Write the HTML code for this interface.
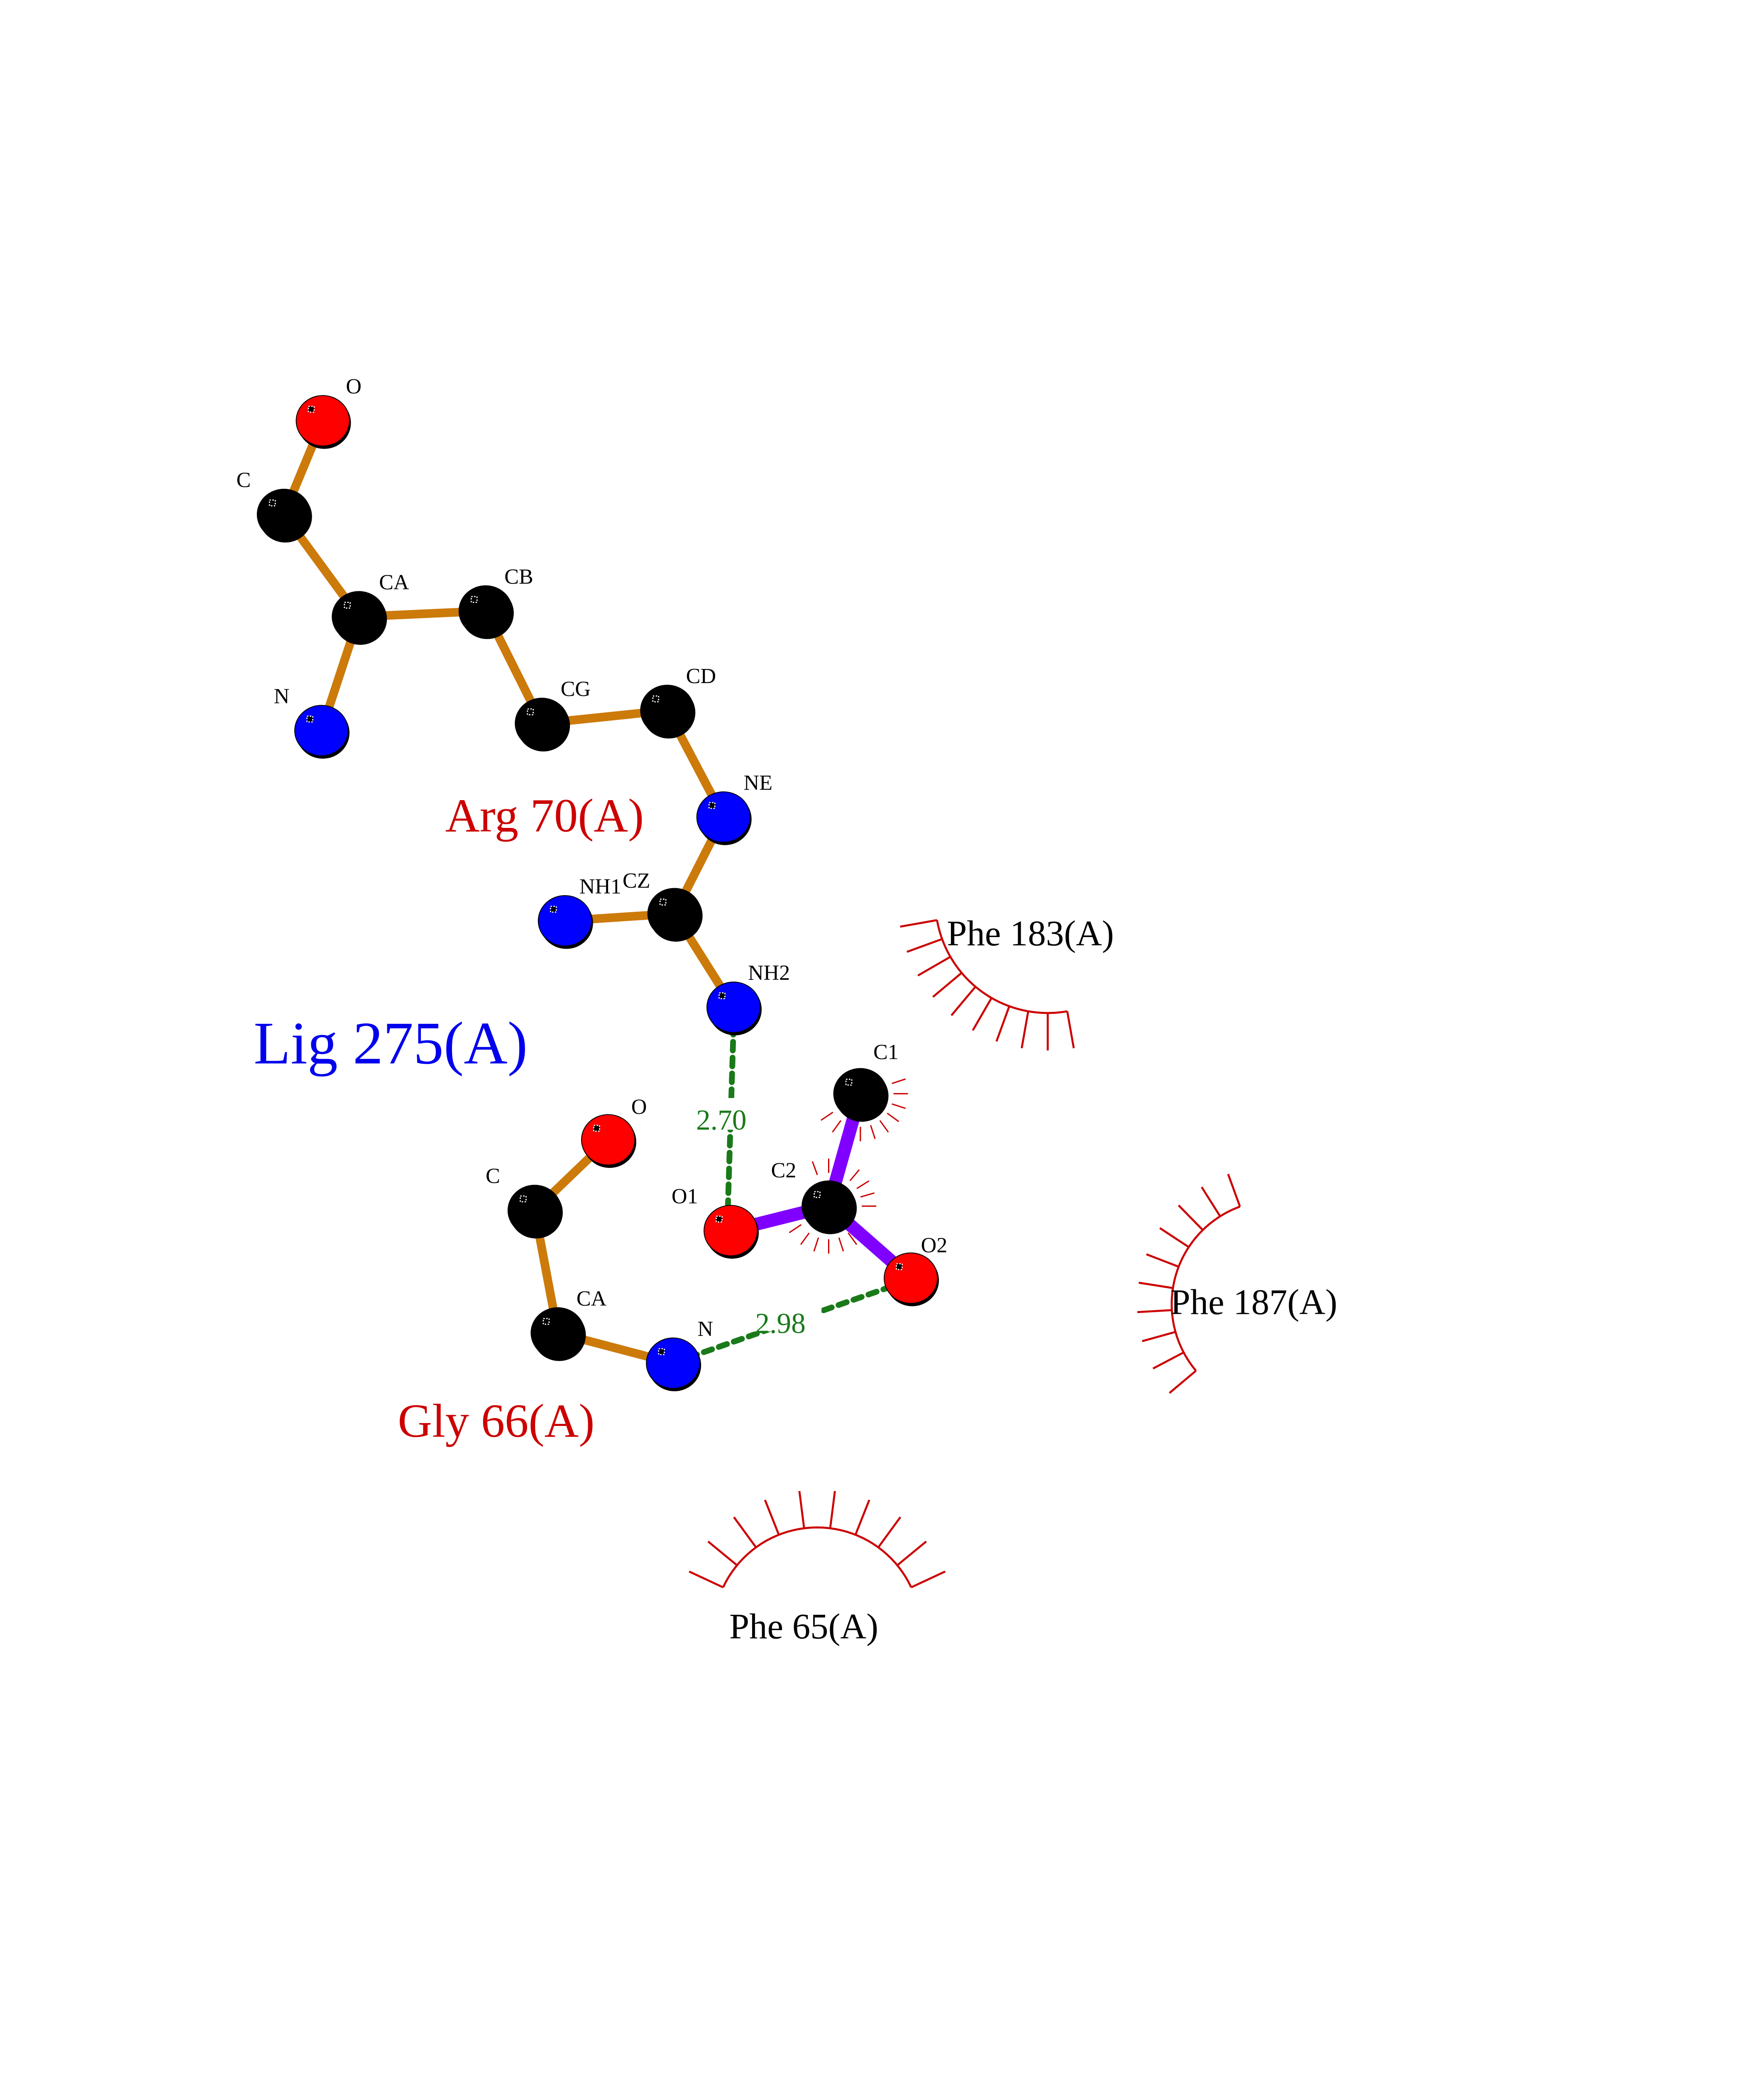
<!DOCTYPE html>
<html><head><meta charset="utf-8"><style>
html,body{margin:0;padding:0;background:#fff;overflow:hidden;width:4250px;height:5500px;}
svg{display:block;position:absolute;left:0;top:0;}
text{font-family:"Liberation Serif",serif;}
</style></head><body>
<svg id="s" width="4250" height="5500" viewBox="0 0 1224 1584" xmlns="http://www.w3.org/2000/svg">
<rect width="1224" height="1584" fill="#fff"/>
<g id="arcs" stroke="#cc0000" stroke-width="1.4" fill="none"></g>
<g stroke="#cc7a0a" stroke-width="6" stroke-linecap="round">
<line x1="224" y1="292" x2="197" y2="357"/>
<line x1="197" y1="357" x2="249" y2="428"/>
<line x1="249" y1="428" x2="337" y2="424"/>
<line x1="249" y1="428" x2="223" y2="507"/>
<line x1="337" y1="424" x2="376" y2="502"/>
<line x1="376" y1="502" x2="463" y2="493"/>
<line x1="463" y1="493" x2="502" y2="567"/>
<line x1="502" y1="567" x2="468" y2="634"/>
<line x1="468" y1="634" x2="392" y2="639"/>
<line x1="468" y1="634" x2="509" y2="699"/>
<line x1="422" y1="791" x2="371" y2="840"/>
<line x1="371" y1="840" x2="387" y2="925"/>
<line x1="387" y1="925" x2="467" y2="946"/>
</g>
<g stroke="#8000ff" stroke-width="9">
<line x1="597" y1="759" x2="575" y2="837"/>
<line x1="575" y1="837" x2="507" y2="854"/>
<line x1="575" y1="837" x2="632" y2="887"/>
</g>
<g stroke="#1a7a1a" stroke-width="4" stroke-dasharray="6,5" stroke-linecap="round">
<line x1="509" y1="712" x2="505" y2="840"/>
<line x1="478" y1="942" x2="618" y2="893"/>
</g>
<rect x="482" y="762" width="48" height="22" fill="#fff"/>
<rect x="522" y="902" width="48" height="22" fill="#fff"/>
<g id="atoms"></g>
<g font-size="15" fill="#000">
<text x="240" y="273">O</text><text x="164" y="338">C</text><text x="263" y="409">CA</text>
<text x="350" y="405">CB</text><text x="190" y="488">N</text><text x="389" y="483">CG</text>
<text x="476" y="474">CD</text><text x="516" y="548">NE</text><text x="402" y="620">NH1</text>
<text x="432" y="616">CZ</text><text x="519" y="680">NH2</text>
<text x="438" y="773">O</text><text x="337" y="821">C</text><text x="400" y="906">CA</text>
<text x="484" y="927">N</text>
<text x="606" y="735">C1</text><text x="535" y="817">C2</text><text x="466" y="835">O1</text><text x="639" y="869">O2</text>
</g>
<g font-size="20" fill="#1a7a1a"><text x="483" y="784">2.70</text><text x="524" y="925">2.98</text></g>
<text x="309" y="577" font-size="33" fill="#cc0000">Arg 70(A)</text>
<text x="176" y="738" font-size="42" fill="#0000ee">Lig 275(A)</text>
<text x="276" y="997" font-size="33" fill="#cc0000">Gly 66(A)</text>
<g font-size="25" fill="#000">
<text x="657" y="656">Phe 183(A)</text><text x="812" y="912">Phe 187(A)</text><text x="506" y="1137">Phe 65(A)</text>
</g>
<text x="57" y="1470" font-size="14">.</text>
</svg>
<script>
var NS="http://www.w3.org/2000/svg";
function el(p,t,a){var e=document.createElementNS(NS,t);for(var k in a)e.setAttribute(k,a[k]);p.appendChild(e);return e;}
var arcs=document.getElementById('arcs');
function hp(cx,cy,r,a0,a1,n,len){
 var d="";for(var i=0;i<=40;i++){var a=(a0+(a1-a0)*i/40)*Math.PI/180;d+=(i?"L":"M")+(cx+r*Math.cos(a))+","+(cy+r*Math.sin(a));}
 el(arcs,'path',{d:d});
 for(var i=0;i<n;i++){var a=(a0+(a1-a0)*i/(n-1))*Math.PI/180;
  el(arcs,'line',{x1:cx+r*Math.cos(a),y1:cy+r*Math.sin(a),x2:cx+(r+len)*Math.cos(a),y2:cy+(r+len)*Math.sin(a)});}
}
hp(727,625,78,170,80,10,26);
hp(885,905,72,250,140,10,24);
hp(567,1132,72,205,335,10,26);
function sp(cx,cy,angs){angs.forEach(function(d){var a=d*Math.PI/180;
 el(arcs,'line',{x1:cx+23*Math.cos(a),y1:cy+23*Math.sin(a),x2:cx+33*Math.cos(a),y2:cy+33*Math.sin(a),'stroke-width':0.9});});}
sp(597,759,[-18,0,18,36,54,72,90,108,126,146]);
sp(575,837,[-110,-90,-70,-50,-32,-16,0,36,54,72,90,108,126,146]);
var atoms=document.getElementById('atoms');
var A=[[224,292,'r'],[197,357,'k'],[249,428,'k'],[337,424,'k'],[223,507,'b'],[376,502,'k'],[463,493,'k'],[502,567,'b'],[468,634,'k'],[392,639,'b'],[509,699,'b'],
[422,791,'r'],[371,840,'k'],[387,925,'k'],[467,946,'b'],[597,759,'k'],[575,837,'k'],[507,854,'r'],[632,887,'r']];
var C={r:'#ff0000',k:'#000000',b:'#0000ff'};
A.forEach(function(p){
 el(atoms,'ellipse',{cx:p[0]+1,cy:p[1]+1.5,rx:18.5,ry:18,fill:'#000'});
 el(atoms,'ellipse',{cx:p[0],cy:p[1],rx:18.5,ry:17.5,fill:C[p[2]],stroke:'#000','stroke-width':0.6});
 el(atoms,'rect',{x:p[0]-10,y:p[1]-10,width:4,height:4,fill:'#000',stroke:'#fff','stroke-width':0.8,'stroke-dasharray':'1,1'});
});
</script>
</body></html>
